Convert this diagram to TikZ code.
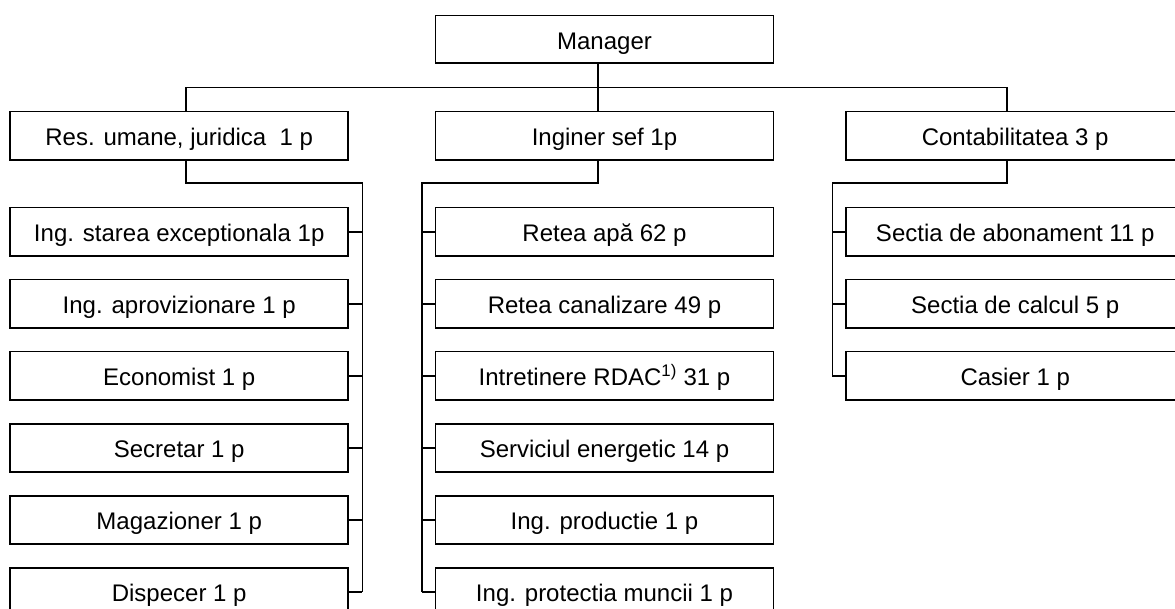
\documentclass[tikz,border=0pt]{standalone}
\usepackage{fontspec}
\setmainfont{Liberation Sans}
\begin{document}
\begin{tikzpicture}[x=1pt, y=-1pt, line width=1.6pt, line join=miter,
  box/.style={draw, rectangle, inner sep=0pt, minimum width=338pt, minimum height=48.3pt,
              text height=19.8pt, text depth=0pt,
              font=\fontsize{24}{28}\selectfont},
  link/.style={draw}]
\useasboundingbox (0,0) rectangle (1175,609);
\clip (0,0) rectangle (1175,609);

% top level
\node[box, minimum height=47.7pt] (mgr) at (604.5,39.2) {Manager};

% second level
\node[box] (res)  at (179.2,135.85)  {Res. umane, juridica\ \ 1 p};
\node[box] (ing)  at (604.5,135.85)  {Inginer sef 1p};
\node[box] (cont) at (1015.2,135.85) {Contabilitatea 3 p};

% children of the HR / legal office
\node[box] (r1) at (179.2,231.85) {Ing. starea exceptionala 1p};
\node[box] (r2) at (179.2,303.85) {Ing. aprovizionare 1 p};
\node[box] (r3) at (179.2,375.85) {Economist 1 p};
\node[box] (r4) at (179.2,447.85) {Secretar 1 p};
\node[box] (r5) at (179.2,519.85) {Magazioner 1 p};
\node[box] (r6) at (179.2,591.85) {Dispecer 1 p};

% children of the chief engineer
\node[box] (e1) at (604.5,231.85) {Retea apă 62 p};
\node[box] (e2) at (604.5,303.85) {Retea canalizare 49 p};
\node[box] (e3) at (604.5,375.85) {Intretinere RDAC\textsuperscript{1)} 31 p};
\node[box] (e4) at (604.5,447.85) {Serviciul energetic 14 p};
\node[box] (e5) at (604.5,519.85) {Ing. productie 1 p};
\node[box] (e6) at (604.5,591.85) {Ing. protectia muncii 1 p};

% children of accounting
\node[box] (c1) at (1015.2,231.85) {Sectia de abonament 11 p};
\node[box] (c2) at (1015.2,303.85) {Sectia de calcul 5 p};
\node[box] (c3) at (1015.2,375.85) {Casier 1 p};

% helper positions for the connector lines
\coordinate (bus)   at (0,87.7);
\coordinate (elbow) at (0,182.9);
\coordinate (rx) at (186,0);
\coordinate (mx) at (598,0);
\coordinate (cx) at (1007,0);
\coordinate (rb) at (362.3,0);
\coordinate (eb) at (421.7,0);
\coordinate (cb) at (832.3,0);

% manager to second level
\draw[link] (mgr.south -| mx) -- (ing.north -| mx);
\draw[link] (res.north -| rx) -- (rx |- bus) -- (cx |- bus) -- (cont.north -| cx);

% HR / legal bracket
\draw[link] (res.south -| rx) -- (rx |- elbow) -- (rb |- elbow) -- (rb |- r6.east);
\foreach \n in {r1,r2,r3,r4,r5,r6} \draw[link] (\n.east) -- (\n.east -| rb);

% chief engineer bracket
\draw[link] (ing.south -| mx) -- (mx |- elbow) -- (eb |- elbow) -- (eb |- e6.west);
\foreach \n in {e1,e2,e3,e4,e5,e6} \draw[link] (\n.west) -- (\n.west -| eb);

% accounting bracket
\draw[link] (cont.south -| cx) -- (cx |- elbow) -- (cb |- elbow) -- (cb |- c3.west);
\foreach \n in {c1,c2,c3} \draw[link] (\n.west) -- (\n.west -| cb);
\end{tikzpicture}
\end{document}
